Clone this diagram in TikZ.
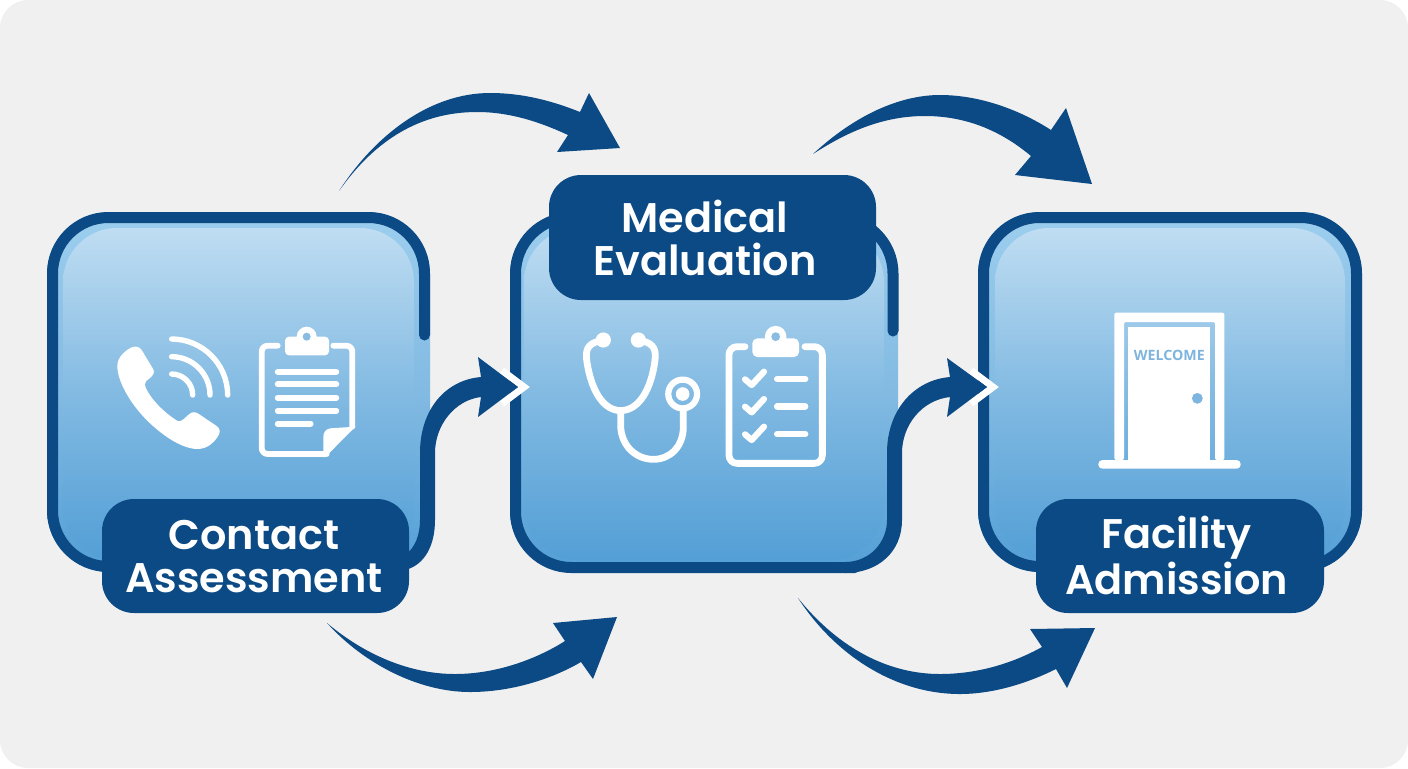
\documentclass[tikz,border=0pt]{standalone}
\usepackage{fontspec}
\setmainfont{Poppins}[BoldFont={Poppins SemiBold}]
\newfontfamily\signfont{Open Sans}[BoldFont={Open Sans Bold}]
\definecolor{navy}{HTML}{0B4A84}
\definecolor{panel}{HTML}{F0F0F0}
\definecolor{signblue}{HTML}{7DB5DE}
\definecolor{boxbot}{HTML}{539FD6}
\definecolor{boxmid}{HTML}{82BAE2}
\definecolor{rimtop}{HTML}{9CCEEE}
\definecolor{glowtop}{HTML}{BFDDF2}
\tikzset{
  px/.style={x=.5pt,y=-.5pt},
  rimfill/.style={rounded corners=31pt,inner sep=0pt,minimum height=180pt,top color=rimtop,bottom color=boxbot,middle color=boxmid},
  glow/.style={rounded corners=27pt,inner sep=0pt,top color=glowtop,bottom color=boxbot,middle color=boxmid},
  border/.style={draw=navy,line width=5.5pt,rounded corners=28pt,line cap=round},
  labelbox/.style={fill=navy,rounded corners=16pt,inner sep=0pt},
  labeltext/.style={text=white,inner sep=0pt,align=center,font=\bfseries\fontsize{20.7}{21.5}\selectfont},
  chev/.style={draw=white,line width=3.5pt,miter limit=10},
  flow/.style={fill=navy},
  iconline/.style={draw=white,line cap=round,line join=round},
  iconfill/.style={fill=white},
  zoomA/.style={shift={(100,320)},x=.16667pt,y=-.16667pt},
  zoomB/.style={shift={(570,320)},x=.16667pt,y=-.16667pt},
  zoomC/.style={shift={(970,200)},x=.16667pt,y=-.16667pt},
}
\begin{document}
\begin{tikzpicture}[px]
\useasboundingbox (0,0) rectangle (1408,768);
\fill[white] (0,0) rectangle (1408,768);
\fill[panel,rounded corners=14pt] (0,0) rectangle (1408,768);

% box fills
\node[rimfill,minimum width=191.5pt] (b1) at (238.5,392) {};
\node[rimfill,minimum width=194pt] (b2) at (704,392.5) {};
\node[rimfill,minimum width=192pt] (b3) at (1170,392) {};
\node[glow,minimum width=175.5pt,minimum height=166pt] (g1) at (238.5,394) {};
\node[glow,minimum width=180pt,minimum height=166pt] (g2) at (704,394) {};
\node[glow,minimum width=175pt,minimum height=166pt] (g3) at (1170,394) {};

% box borders
\draw[border] (110,566.5) -- (52.5,566.5) -- (52.5,217.5) -- (424.5,217.5) -- (424.5,335);
\draw[border] (600,217.5) -- (515.5,217.5) -- (515.5,567.5) -- (855,567.5);
\draw[border] (800,217.5) -- (893,217.5) -- (893,331);
\draw[border] (983.5,217.5) rectangle (1356.5,566.5);

% chevrons where arrows enter boxes
\coordinate (t1) at (518,387);
\coordinate (t2) at (987,387);
\draw[chev] (502,370.5) -- (524,387) -- (502,403.5);
\draw[chev] (971,370.5) -- (993,387) -- (971,403.5);

% S-shaped arrows
\coordinate (s1) at (405,570);
\fill[flow] (s1) .. controls (425,565) and (435,545) .. (435,520) -- (435,453)
  .. controls (435,425) and (455,400) .. (481,397) -- (478,417) -- (t1) -- (478,357) -- (481,377)
  .. controls (445,380) and (420,410) .. (420,453) -- (420,520)
  .. controls (420,535) and (415,548) .. (405,555) -- cycle;
\coordinate (s2) at (845,573);
\fill[flow] (s2) .. controls (878,573) and (902,552) .. (902,520) -- (902,453)
  .. controls (902,425) and (922,400) .. (950,397) -- (947,417) -- (t2) -- (947,358) -- (950,377)
  .. controls (914,380) and (887,410) .. (887,453) -- (887,520)
  .. controls (887,542) and (870,562) .. (845,562) -- cycle;

% curved arrows
\coordinate (a1) at (339,191);
\coordinate (h1) at (620,148);
\fill[flow] (a1) .. controls (375,135) and (430,93) .. (490,93) .. controls (525,93) and (555,102) .. (580,112)
  -- (589,93) -- (h1) -- (557,152) -- (568,135)
  .. controls (540,122) and (510,112) .. (477,112) .. controls (420,112) and (375,140) .. (a1) -- cycle;
\coordinate (a2) at (813,154);
\coordinate (h2) at (1092,184);
\fill[flow] (a2) .. controls (855,115) and (900,95) .. (940,95) .. controls (980,95) and (1020,110) .. (1051,130)
  -- (1066,108) -- (h2) -- (1015,175) -- (1031,156)
  .. controls (1000,130) and (965,116) .. (925,116) .. controls (885,116) and (850,130) .. (a2) -- cycle;
\coordinate (a3) at (327,623);
\coordinate (h3) at (617,617);
\fill[flow] (a3) .. controls (365,665) and (420,692) .. (470,692) .. controls (510,692) and (550,680) .. (581,662)
  -- (593,679) -- (h3) -- (553,623) -- (565,641)
  .. controls (535,660) and (495,674) .. (455,674) .. controls (410,674) and (365,655) .. (a3) -- cycle;
\coordinate (a4) at (798,598);
\coordinate (h4) at (1095,628);
\fill[flow] (a4) .. controls (835,655) and (895,694) .. (960,694) .. controls (995,694) and (1030,682) .. (1056,669)
  -- (1067,688) -- (h4) -- (1030,629) -- (1042,647)
  .. controls (1015,662) and (980,674) .. (940,674) .. controls (890,674) and (840,650) .. (a4) -- cycle;

% labels
\node[labelbox,minimum width=153.5pt,minimum height=57pt] (l1) at (255.5,556) {};
\node[labelbox,minimum width=163.5pt,minimum height=62.5pt] (l2) at (712.5,237.5) {};
\node[labelbox,minimum width=144pt,minimum height=57pt] (l3) at (1180,556) {};
\node[labeltext] (l1t) at (254,557) {Contact\\Assessment};
\node[labeltext] (l2t) at (705,237.5) {Medical\\Evaluation};
\node[labeltext] (l3t) at (1176.5,555.5) {Facility\\Admission};

% phone and clipboard
\begin{scope}[zoomA]
\fill[iconfill] (95,82) .. controls (110,76) and (122,82) .. (128,95) -- (160,148) .. controls (164,158) and (160,165) .. (152,172) -- (138,184) .. controls (133,190) and (134,197) .. (138,205) .. controls (155,240) and (190,275) .. (228,300) .. controls (236,306) and (243,304) .. (249,299) -- (268,282) .. controls (276,275) and (286,275) .. (295,281) -- (350,318) .. controls (362,327) and (362,338) .. (352,352) .. controls (340,370) and (322,385) .. (295,387) .. controls (250,388) and (190,350) .. (140,300) .. controls (90,250) and (50,180) .. (52,135) .. controls (54,110) and (75,92) .. (95,82) -- cycle;
\foreach \r in {63,115,168}
  \draw[iconline,line width=2.7pt] (215,225-\r) .. controls (215+.55*\r,225-\r) and (215+\r,225-.55*\r) .. (215+\r,225);
\draw[iconline,line width=2.9pt,rounded corners=3pt] (533,77) -- (485,77) -- (485,402) -- (680,402);
\draw[iconline,line width=2.9pt,rounded corners=3pt] (700,77) -- (757,77) -- (757,320);
\fill[iconfill] (676,411) -- (766,320) -- (690,325) .. controls (676,328) and (670,338) .. (670,350) -- (670,411) -- cycle;
\fill[iconfill,rounded corners=2pt] (555,50) rectangle (687,106);
\fill[iconfill] (620,50) circle[radius=5pt];
\fill[signblue!90!white] (620,50) circle[radius=2pt];
\foreach \y in {155,193,233,272}
  \draw[iconline,line width=2.9pt] (533,\y) -- (709,\y);
\draw[iconline,line width=2.9pt] (533,311) -- (632,311);
\end{scope}

% stethoscope and checklist
\begin{scope}[zoomB]
\draw[iconline,line width=3.4pt] (100,60) .. controls (60,68) and (45,80) .. (50,120) .. controls (58,180) and (85,270) .. (152,272) .. controls (220,270) and (248,180) .. (255,120) .. controls (260,80) and (245,68) .. (205,60);
\fill[iconfill] (100,60) circle[radius=3.8pt];
\fill[iconfill] (205,60) circle[radius=3.8pt];
\draw[iconline,line width=3.4pt] (152,272) -- (152,320) .. controls (155,380) and (200,418) .. (250,418) .. controls (300,418) and (340,380) .. (340,320) -- (340,268);
\draw[iconline,line width=3.1pt] (338,222) circle[radius=7.2pt];
\fill[iconfill] (338,222) circle[radius=3.4pt];
\draw[iconline,line width=3.4pt,rounded corners=4pt] (525,80) -- (477,80) -- (477,430) -- (757,430) -- (757,80) -- (705,80);
\fill[iconfill,rounded corners=2.5pt] (547,55) rectangle (687,111);
\fill[iconfill] (617,50) circle[radius=5.4pt];
\fill[signblue!90!white] (617,50) circle[radius=2.2pt];
\foreach \y in {0,82,165} {
  \draw[iconline,line width=3.1pt] (525,178+\y) -- (545,195+\y) -- (582,155+\y);
  \draw[iconline,line width=3.4pt] (622,177+\y) -- (705,177+\y);
}
\end{scope}

% door
\begin{scope}[zoomC]
\fill[iconfill,rounded corners=1pt] (433,780) -- (433,338) -- (763,338) -- (763,780) -- (735,780) -- (735,366) -- (462,366) -- (462,780) -- cycle;
\fill[iconfill] (475,380) rectangle (721,785);
\fill[iconfill,rounded corners=2pt] (385,780) rectangle (812,806);
\fill[signblue] (682,595) circle[radius=2.7pt];
\node[text=signblue,font=\signfont\bfseries\fontsize{7.1}{8}\selectfont,inner sep=0pt] (w) at (598,467) {WELCOME};
\end{scope}
\end{tikzpicture}
\end{document}
